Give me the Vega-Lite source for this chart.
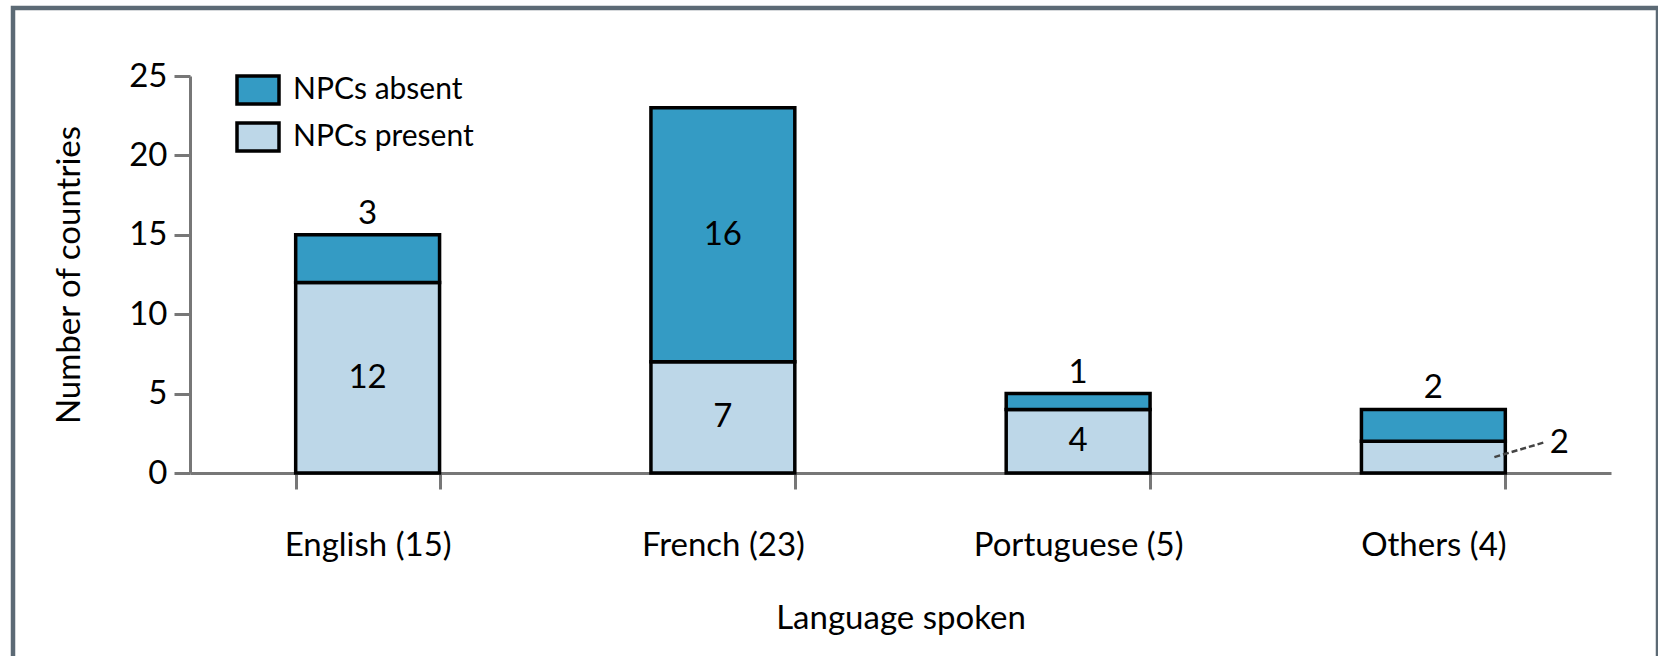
{
  "$schema": "https://vega.github.io/schema/vega-lite/v6.json",
  "width": 1645,
  "height": 700,
  "autosize": {"type": "none"},
  "padding": {"left": 13, "top": 8, "right": 0, "bottom": 0},
  "background": "white",
  "config": {
    "view": {"stroke": "#5c6a75", "strokeWidth": 4.5},
    "font": "Lato"
  },
  "data": {
    "values": [
      {"language": "English (15)", "status": "NPCs present", "count": 12},
      {"language": "English (15)", "status": "NPCs absent", "count": 3},
      {"language": "French (23)", "status": "NPCs present", "count": 7},
      {"language": "French (23)", "status": "NPCs absent", "count": 16},
      {"language": "Portuguese (5)", "status": "NPCs present", "count": 4},
      {"language": "Portuguese (5)", "status": "NPCs absent", "count": 1},
      {"language": "Others (4)", "status": "NPCs present", "count": 2},
      {"language": "Others (4)", "status": "NPCs absent", "count": 2}
    ]
  },
  "encoding": {
    "x": {
      "field": "language",
      "type": "nominal",
      "sort": ["English (15)", "French (23)", "Portuguese (5)", "Others (4)"],
      "scale": {"range": [177, 1598], "paddingInner": 0.595, "paddingOuter": 0.2975},
      "axis": {
        "title": "Language spoken",
        "offset": -235,
        "labelAngle": 0,
        "domainColor": "#777777",
        "domainWidth": 3,
        "tickColor": "#777777",
        "tickWidth": 3,
        "tickSize": 16,
        "tickBand": "extent",
        "labelFontSize": 33,
        "labelLimit": 400,
        "labelPadding": 40,
        "labelColor": "black",
        "titleFontSize": 33,
        "titleFontWeight": "normal",
        "titlePadding": 40,
        "titleColor": "black"
      }
    }
  },
  "layer": [
    {
      "mark": {"type": "bar", "stroke": "black", "strokeWidth": 3.5},
      "encoding": {
        "y": {
          "field": "count",
          "type": "quantitative",
          "stack": "zero",
          "scale": {"domain": [0, 25], "nice": false, "range": [465, 68]},
          "axis": {
            "title": "Number of countries",
            "offset": -177,
            "values": [0, 5, 10, 15, 20, 25],
            "grid": false,
            "domainColor": "#777777",
            "domainWidth": 3,
            "tickColor": "#777777",
            "tickWidth": 3,
            "tickSize": 16,
            "labelFontSize": 33,
            "labelPadding": 7,
            "labelColor": "black",
            "titleFontSize": 33,
            "titleFontWeight": "normal",
            "titlePadding": 42,
            "titleColor": "black"
          }
        },
        "order": {"field": "status", "sort": "descending"},
        "color": {
          "field": "status",
          "type": "nominal",
          "scale": {"domain": ["NPCs absent", "NPCs present"], "range": ["#349bc4", "#bdd7e8"]},
          "legend": {
            "title": null,
            "orient": "none",
            "legendX": 222,
            "legendY": 59,
            "symbolType": "M-1,-0.667H1V0.667H-1Z",
            "symbolSize": 1764,
            "symbolStrokeColor": "black",
            "symbolStrokeWidth": 3.5,
            "symbolOpacity": 1,
            "labelFontSize": 30,
            "labelLimit": 400,
            "labelOffset": 12,
            "labelColor": "black",
            "rowPadding": 2,
            "padding": 0
          }
        }
      }
    },
    {
      "transform": [{"filter": "datum.count >= 4"}],
      "mark": {"type": "text", "fontSize": 33, "color": "black"},
      "encoding": {
        "y": {"field": "count", "type": "quantitative", "stack": "zero", "bandPosition": 0.5},
        "order": {"field": "status", "sort": "descending"},
        "text": {"field": "count", "type": "quantitative"}
      }
    },
    {
      "transform": [
        {"stack": "count", "groupby": ["language"], "sort": [{"field": "status", "order": "descending"}], "as": ["y0", "y1"]},
        {"filter": "datum.count < 4 && datum.status == 'NPCs absent'"}
      ],
      "mark": {"type": "text", "fontSize": 33, "color": "black", "baseline": "bottom", "dy": -4},
      "encoding": {
        "y": {"field": "y1", "type": "quantitative"},
        "text": {"field": "count", "type": "quantitative"}
      }
    },
    {
      "transform": [{"filter": "datum.count < 4 && datum.status == 'NPCs present'"}],
      "mark": {"type": "text", "fontSize": 33, "color": "black", "dx": 126, "dy": 2},
      "encoding": {
        "y": {"field": "count", "type": "quantitative", "stack": null},
        "text": {"field": "count", "type": "quantitative"}
      }
    },
    {
      "transform": [{"filter": "datum.count < 4 && datum.status == 'NPCs present'"}],
      "mark": {"type": "rule", "xOffset": 61, "x2Offset": 112, "stroke": "#444444", "strokeWidth": 2.5, "strokeDash": [6, 3]},
      "encoding": {
        "x2": {"field": "language"},
        "y": {"datum": 1.0},
        "y2": {"datum": 1.95}
      }
    }
  ]
}
